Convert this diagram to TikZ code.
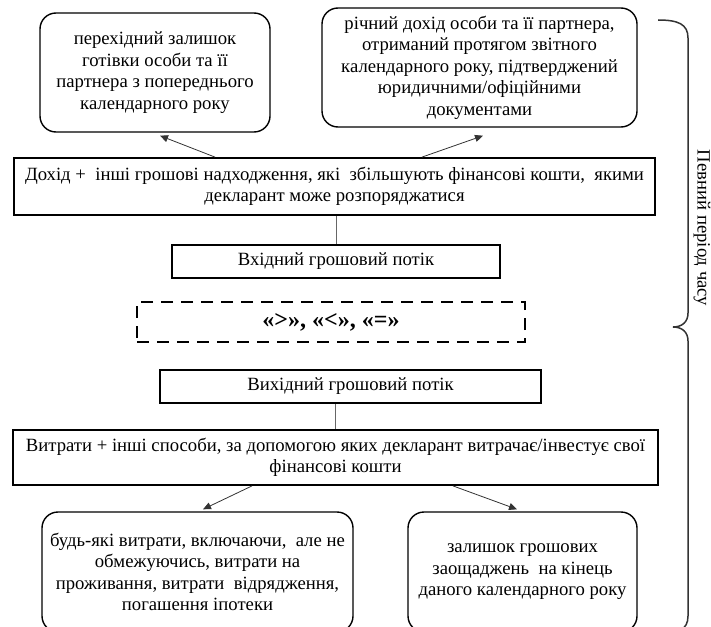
\documentclass[tikz,border=0pt]{standalone}
\usepackage{fontspec}
\setmainfont{Liberation Serif}
\usetikzlibrary{arrows.meta,calc}
\tikzset{
  txt/.style={font=\fontsize{18.7}{21.5}\selectfont, align=center, inner sep=0pt},
  sqbox/.style={txt, draw, line width=1.8pt, rectangle},
  rbox/.style={txt, draw, line width=1.4pt, rounded corners=16pt},
  dbox/.style={draw, line width=1.8pt, dash pattern=on 12pt off 8pt, inner sep=0pt,
    font=\bfseries\fontsize{24}{28}\selectfont},
  link/.style={draw=black!60, line width=0.8pt},
  arr/.style={draw=black!80, line width=0.8pt, -{Triangle[length=8pt,width=7pt]}},
  brc/.style={draw=black!80, line width=1.5pt},
}
\begin{document}
\begin{tikzpicture}[x=1pt,y=-1pt]
\useasboundingbox (0,0) rectangle (711,626);
\clip (0,0) rectangle (711,626);

% sources of incoming funds
\node[rbox, minimum width=230pt, minimum height=119pt] (pa) at (155,72.5)
  {перехідний залишок\\готівки особи та її\\партнера з попереднього\\календарного року};
\node[rbox, minimum width=315pt, minimum height=119pt] (pb) at (479.5,67.5)
  {річний дохід особи та її партнера,\\отриманий протягом звітного\\календарного року, підтверджений\\юридичними/офіційними\\документами};

% income and inflow
\node[sqbox, minimum width=641pt, minimum height=57pt] (inc) at (334.5,186.5)
  {Дохід +\ \ інші грошові надходження, які\ \ збільшують фінансові кошти,\ \ якими\\декларант може розпоряджатися};
\node[sqbox, minimum width=328pt, minimum height=33pt] (inflow) at (336,261.5)
  {Вхідний грошовий потік};

% comparison
\node[dbox, minimum width=388pt, minimum height=40pt] (cmp) at (331,322)
  {«>», «<», «=»};

% outflow and expenses
\node[sqbox, minimum width=381pt, minimum height=33pt] (outflow) at (350.5,386.5)
  {Вихідний грошовий потік};
\node[sqbox, minimum width=645pt, minimum height=55pt] (exp) at (335.5,457.5)
  {Витрати + інші способи, за допомогою яких декларант витрачає/інвестує свої\\фінансові кошти};

% uses of funds
\node[rbox, minimum width=311pt, minimum height=120pt] (pc) at (197.5,572)
  {будь-які витрати, включаючи,\ \ але не\\обмежуючись, витрати на\\проживання, витрати\ \ відрядження,\\погашення іпотеки};
\node[rbox, minimum width=229pt, minimum height=120pt] (pd) at (522.5,572)
  {залишок грошових\\заощаджень\ \ на кінець\\даного календарного року};

% connectors
\draw[arr] ([xshift=-119.5pt]inc.north) -- ([xshift=5pt,yshift=-3pt]pa.south);
\draw[arr] ([xshift=87.5pt]inc.north) -- ([xshift=3.5pt,yshift=-8pt]pb.south);
\draw[link] (inc.south -| inflow.north) -- (inflow.north);
\draw[link] (outflow.south -| exp.north) -- (exp.north);
\draw[arr] ([xshift=-83.5pt]exp.south) -- ([xshift=5.5pt,yshift=2pt]pc.north);
\draw[arr] ([xshift=117.5pt]exp.south) -- ([xshift=-5.5pt,yshift=2pt]pd.north);

% brace over the period
\draw[brc] (658,20) .. controls (678,20) and (688,24) .. (688,38)
  -- (688,313) .. controls (688,322) and (682,327) .. (673,327)
  .. controls (682,327) and (688,332) .. (688,341)
  -- (688,616) .. controls (688,630) and (678,634) .. (658,634);
\node[txt, rotate=-90, anchor=base] (period) at (697.5,228) {Певний період часу};
\end{tikzpicture}
\end{document}
